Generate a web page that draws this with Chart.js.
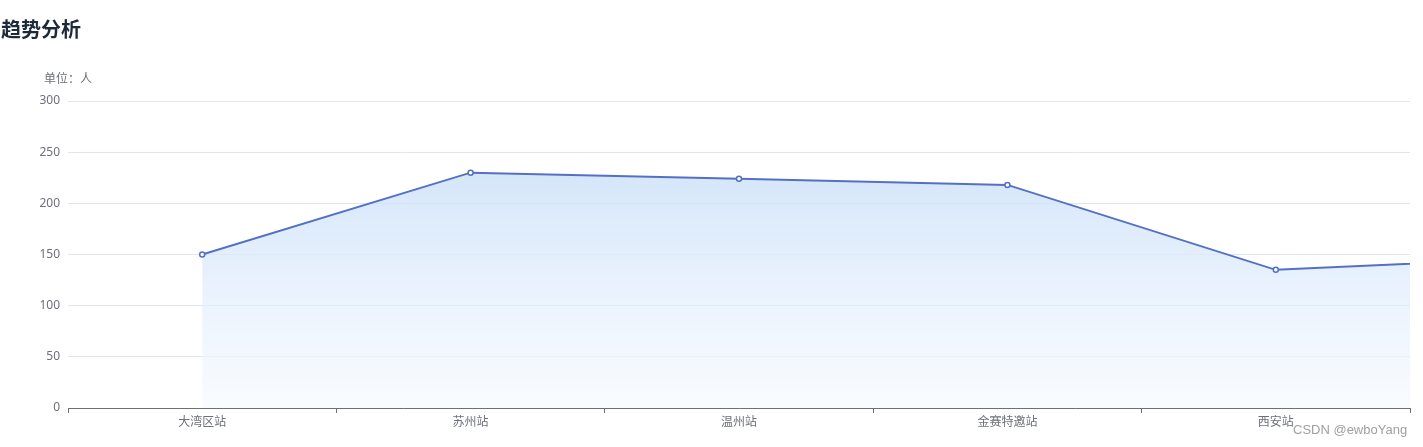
<!DOCTYPE html>
<html>
<head>
<meta charset="utf-8">
<script src="https://cdn.jsdelivr.net/npm/chart.js@4.4.1/dist/chart.umd.min.js"></script>
<style>
  html, body { margin: 0; padding: 0; background: #fff; }
  body { width: 1423px; height: 447px; position: relative; overflow: hidden;
         font-family: "Noto Sans CJK SC", "Noto Sans", sans-serif; }
  #wrap { position: absolute; left: 0; top: 0; width: 1423px; height: 447px; }
  #title { position: absolute; left: 1px; top: 15px; font-size: 20px; font-weight: bold;
           color: #1d2a3a; line-height: 28px; white-space: nowrap; }
  #unit { position: absolute; left: 44px; top: 69px; font-size: 12px; color: #6E7079;
          line-height: 18px; white-space: nowrap; }
  #mark { position: absolute; left: 1293px; top: 421px; font-size: 13px; color: #a0a0a0;
          line-height: 18px; white-space: nowrap; font-family: "Liberation Sans", Arial, sans-serif; }
</style>
</head>
<body>
<div id="wrap"><canvas id="c" width="1423" height="447"></canvas></div>
<div id="title">趋势分析</div>
<div id="unit">单位：人</div>
<div id="mark">CSDN @ewboYang</div>
<script>
// Visible categories (the series continues to one more station beyond the visible window)
const categories = ['大湾区站', '苏州站', '温州站', '金赛特邀站', '西安站'];
const hiddenCategories = [''];
const visitors = [150, 230, 224, 218, 135, 147];
const yTicks = [0, 50, 100, 150, 200, 250, 300];

const labels = categories.concat(hiddenCategories);
const lineColor = '#5470c6';

const ctx = document.getElementById('c').getContext('2d');
new Chart(ctx, {
  type: 'line',
  data: {
    labels: labels,
    datasets: [{
      data: visitors,
      clip: { left: 5, top: 5, right: 0, bottom: 5 },
      borderColor: lineColor,
      borderWidth: 2,
      tension: 0,
      pointRadius: 2.5,
      pointBorderWidth: 1.5,
      pointBackgroundColor: '#ffffff',
      pointBorderColor: lineColor,
      fill: 'origin',
      backgroundColor: (c) => {
        const area = c.chart.chartArea;
        if (!area) return 'rgba(200,222,248,0.8)';
        const g = c.chart.ctx.createLinearGradient(0, area.top, 0, area.bottom);
        g.addColorStop(0, 'rgba(192,218,247,0.9)');
        g.addColorStop(1, 'rgba(245,249,255,0.6)');
        return g;
      }
    }]
  },
  options: {
    responsive: false,
    animation: false,
    layout: { padding: { left: 0, right: 13, top: 101, bottom: 0 } },
    plugins: { legend: { display: false }, tooltip: { enabled: false }, title: { display: false } },
    scales: {
      x: {
        type: 'category',
        offset: true,
        afterDataLimits: (s) => { s.max = categories.length - 1; },
        afterFit: (s) => { s.height = 39; },
        grid: { offset: true, drawOnChartArea: false, drawTicks: true, tickLength: 5, tickColor: '#6E7079', tickWidth: 1 },
        border: { display: true, color: '#6E7079', width: 1 },
        ticks: { color: '#6E7079', font: { size: 12, family: '"Noto Sans CJK SC", sans-serif' },
                 padding: 1, maxRotation: 0, autoSkip: false }
      },
      y: {
        min: yTicks[0],
        max: yTicks[yTicks.length - 1],
        afterFit: (s) => { s.width = 68; },
        afterBuildTicks: (s) => { s.ticks = yTicks.map(v => ({ value: v })); },
        grid: { color: '#E0E6F1', drawTicks: false, lineWidth: 1 },
        border: { display: false },
        ticks: { color: '#6E7079', padding: 8, font: { size: 12, family: '"Noto Sans", sans-serif' } }
      }
    }
  }
});
</script>
</body>
</html>
